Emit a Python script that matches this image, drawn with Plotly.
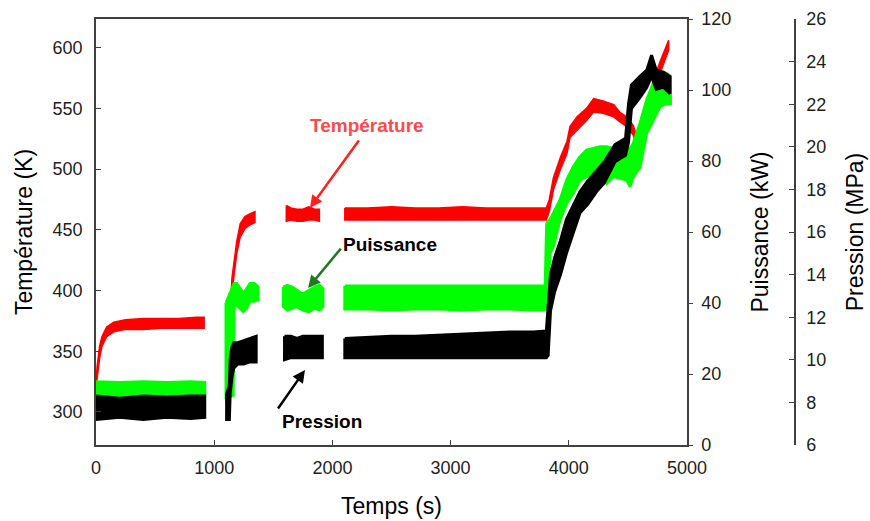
import plotly.graph_objects as go

# ---------------- data ----------------
# Temperature (K): time (s), lower / upper envelope of the noisy band; None = gap
temp_t = [0, 10, 30, 50, 90, 150, 250, 400, 550, 700, 850, 915, None,
          1110, 1130, 1150, 1170, 1190, 1220, 1260, 1300, 1345, None,
          1610, 1650, 1700, 1750, 1800, 1850, 1890, None,
          2105, 2300, 2500, 2700, 2900, 3100, 3300, 3500, 3700, 3810, 3835, 3870, 3930,
          3985, 4010, 4070, 4150, 4210, 4290, 4380, 4430, 4490, 4545, 4575, 4620, 4700,
          4770, 4845]
temp_lo = [318, 328, 344, 354, 362, 366, 368, 368, 369, 369, 369, 369, None,
           322, 360, 398, 414, 430, 444, 451, 454, 456, None,
           457, 458, 457, 457, 458, 458, 457, None,
           458, 458, 458, 458, 458, 458, 458, 458, 458, 458, 465, 483, 500,
           513, 526, 532, 540, 547, 546, 543, 539, 535, 528, 519, 530, 560,
           579, 598]
temp_hi = [326, 338, 354, 362, 370, 374, 376, 377, 377, 377, 378, 378, None,
           332, 372, 410, 425, 440, 455, 461, 463, 465, None,
           470, 468, 467, 467, 469, 467, 467, None,
           468, 468, 469, 468, 468, 469, 468, 468, 468, 468, 475, 493, 510,
           523, 535, 543, 550, 558, 556, 553, 547, 543, 536, 527, 538, 568,
           588, 606]

# Power (kW)
puis_t = [0, 200, 400, 600, 800, 920, None,
          1100, 1160, 1168, 1190, 1220, 1246, 1275, 1303, 1340, 1372, None,
          1585, 1620, 1660, 1700, 1750, 1800, 1850, 1890, 1920, None,
          2105, 2300, 2500, 2700, 2900, 3100, 3300, 3500, 3700, 3800, 3813, 3841, 3869,
          3926, 3982, 4038, 4095, 4151, 4264, 4320, 4377, 4490, 4518, 4546, 4602, 4659,
          4715, 4772, 4828, 4860]
puis_lo = [13.8, 14.0, 14.0, 13.8, 14.0, 14.0, None,
           13.5, 14.0, 39.0, 39.4, 38.5, 37.6, 38.5, 40.5, 40.5, 41.0, None,
           39.0, 38.0, 38.5, 39.0, 38.0, 37.5, 38.5, 38.0, 39.0, None,
           38.3, 38.3, 38.0, 38.3, 38.3, 38.0, 38.3, 38.3, 38.0, 38.0, 38.5, 54.0, 55.9,
           63.4, 68.1, 70.9, 74.6, 75.6, 76.5, 73.7, 75.6, 74.6, 72.8, 75.6, 78.2, 87.8,
           91.5, 95.3, 96.2, 96.2]
puis_hi = [17.8, 17.6, 17.8, 17.6, 17.8, 17.6, None,
           40.0, 45.0, 45.5, 45.5, 44.0, 42.8, 44.0, 45.5, 45.5, 44.5, None,
           44.5, 45.0, 44.5, 43.5, 42.5, 43.5, 44.5, 45.0, 44.0, None,
           44.8, 44.8, 45.0, 44.8, 44.8, 45.0, 44.8, 44.8, 45.0, 44.8, 62.4, 63.5, 65.3,
           69.0, 74.6, 78.4, 81.2, 83.1, 84.0, 84.0, 83.5, 83.1, 83.5, 85.0, 90.6, 97.2,
           101.9, 105.2, 104.7, 103.8]

# Pressure (MPa)
pres_t = [0, 200, 400, 600, 800, 920, None,
          1105, 1128, 1135, 1150, 1165, 1200, 1250, 1300, 1355, None,
          1595, 1650, 1700, 1750, 1800, 1850, 1915, None,
          2105, 2300, 2500, 2700, 2900, 3100, 3300, 3500, 3700, 3810, 3825, 3845, 3880,
          3930, 3980, 4040, 4095, 4160, 4235, 4300, 4391, 4480, 4505, 4530, 4600, 4660,
          4700, 4740, 4800, 4856]
pres_lo = [7.2, 7.3, 7.2, 7.3, 7.25, 7.3, None,
           7.2, 7.2, 8.4, 9.2, 9.6, 9.8, 9.8, 9.9, 9.9, None,
           10.0, 10.1, 10.1, 10.1, 10.1, 10.1, 10.1, None,
           10.1, 10.1, 10.1, 10.1, 10.1, 10.1, 10.1, 10.1, 10.1, 10.1, 10.2, 12.3, 13.2,
           14.0, 15.0, 16.0, 16.9, 17.3, 17.9, 18.3, 19.3, 19.6, 20.2, 21.8, 22.3, 22.8,
           23.3, 22.7, 22.8, 22.5]
pres_hi = [8.3, 8.2, 8.3, 8.25, 8.3, 8.3, None,
           8.4, 8.8, 10.0, 10.6, 10.8, 10.8, 10.9, 11.0, 11.1, None,
           11.1, 11.1, 11.0, 11.1, 11.1, 11.1, 11.1, None,
           11.0, 11.05, 11.1, 11.1, 11.15, 11.2, 11.25, 11.3, 11.3, 11.35, 12.5, 14.0, 14.8,
           15.6, 16.6, 17.3, 17.9, 18.4, 18.9, 19.3, 20.1, 20.4, 22.0, 22.9, 23.3, 23.6,
           24.3, 23.6, 23.5, 23.3]

x_ticks = [0, 1000, 2000, 3000, 4000, 5000]
temp_ticks = [300, 350, 400, 450, 500, 550, 600]
puis_ticks = [0, 20, 40, 60, 80, 100, 120]
pres_ticks = [6, 8, 10, 12, 14, 16, 18, 20, 22, 24, 26]

# ---------------- figure ----------------
FONT = "Liberation Sans, Arial, sans-serif"
AX = "#404040"
TXT = "#1e1e1e"


def segments(t, lo, hi):
    segs, cur = [], []
    for a, b, c in zip(t, lo, hi):
        if a is None:
            if cur:
                segs.append(cur)
            cur = []
        else:
            cur.append((a, b, c))
    if cur:
        segs.append(cur)
    return segs


fig = go.Figure()


def add_band(t, lo, hi, color, yaxis, lw):
    for seg in segments(t, lo, hi):
        xs = [p[0] for p in seg] + [p[0] for p in reversed(seg)] + [seg[0][0]]
        ys = [p[2] for p in seg] + [p[1] for p in reversed(seg)] + [seg[0][2]]
        fig.add_trace(go.Scatter(x=xs, y=ys, mode="lines", fill="toself",
                                 fillcolor=color, line=dict(color=color, width=lw),
                                 yaxis=yaxis, showlegend=False, hoverinfo="skip"))


add_band(temp_t, temp_lo, temp_hi, "#ff0000", "y", 1.5)
add_band(puis_t, puis_lo, puis_hi, "#00ff00", "y2", 3)
add_band(pres_t, pres_lo, pres_hi, "#000000", "y3", 3)

W_PLOT = 591
W_PAPER = 699
tickfont = dict(family=FONT, size=18, color=TXT)
titlefont = dict(family=FONT, size=23, color="#000000")

fig.update_layout(
    width=870, height=521,
    margin=dict(l=96, r=75, t=19, b=76),
    paper_bgcolor="white", plot_bgcolor="white",
    showlegend=False,
    xaxis=dict(domain=[0, W_PLOT / W_PAPER], range=[0, 5000], tickvals=x_ticks,
               ticks="inside", ticklen=5, tickcolor=AX, showline=True, mirror=True,
               linecolor=AX, linewidth=1.5, showgrid=False, zeroline=False,
               tickfont=tickfont, ticklabelstandoff=6,
               title=dict(text="Temps (s)", font=titlefont, standoff=21), automargin=False),
    yaxis=dict(range=[272.8, 623.6], tickvals=temp_ticks, ticks="inside", ticklen=5,
               tickcolor=AX, showline=True, linecolor=AX, linewidth=1.5,
               showgrid=False, zeroline=False, tickfont=tickfont, ticklabelstandoff=8,
               title=dict(text="Température (K)", font=titlefont, standoff=14),
               automargin=False),
    yaxis2=dict(range=[0, 120], tickvals=puis_ticks, overlaying="y", side="right",
                anchor="x", ticks="outside", ticklen=4, tickcolor=AX, showline=True,
                linecolor=AX, linewidth=1.5, showgrid=False, zeroline=False,
                tickfont=tickfont, ticklabelstandoff=5,
                title=dict(text="Puissance (kW)", font=titlefont, standoff=22),
                automargin=False),
    yaxis3=dict(range=[6, 26], tickvals=pres_ticks, overlaying="y", side="right",
                anchor="free", position=1, ticks="inside", ticklen=5, tickcolor=AX,
                showline=True, linecolor=AX, linewidth=1.5, showgrid=False,
                zeroline=False, tickfont=tickfont, ticklabelstandoff=7,
                title=dict(text="Pression (MPa)", font=titlefont, standoff=21),
                automargin=False),
)

# labels and arrows
afont = dict(family=FONT, size=19, color="#000000")
fig.add_annotation(x=2293, y=536.3, xref="x", yref="y", text="<b>Température</b>",
                   showarrow=False, font=dict(family=FONT, size=19, color="#ff4848"))
fig.add_annotation(x=2491, y=438.3, xref="x", yref="y", text="<b>Puissance</b>",
                   showarrow=False, font=afont)
fig.add_annotation(x=1912, y=292.5, xref="x", yref="y", text="<b>Pression</b>",
                   showarrow=False, font=afont)

fig.add_annotation(x=1810, y=468, xref="x", yref="y", text="", showarrow=True,
                   ax=50, ay=-69, arrowhead=2, arrowsize=1, arrowwidth=2.5,
                   arrowcolor="#ff2020")
fig.add_annotation(x=1794, y=402, xref="x", yref="y", text="", showarrow=True,
                   ax=34, ay=-41, arrowhead=2, arrowsize=1, arrowwidth=2.5,
                   arrowcolor="#1f7a1f")
fig.add_annotation(x=1768, y=334.6, xref="x", yref="y", text="", showarrow=True,
                   ax=-28, ay=40, arrowhead=2, arrowsize=1, arrowwidth=2.5,
                   arrowcolor="#000000")

fig.write_html("out.html")
